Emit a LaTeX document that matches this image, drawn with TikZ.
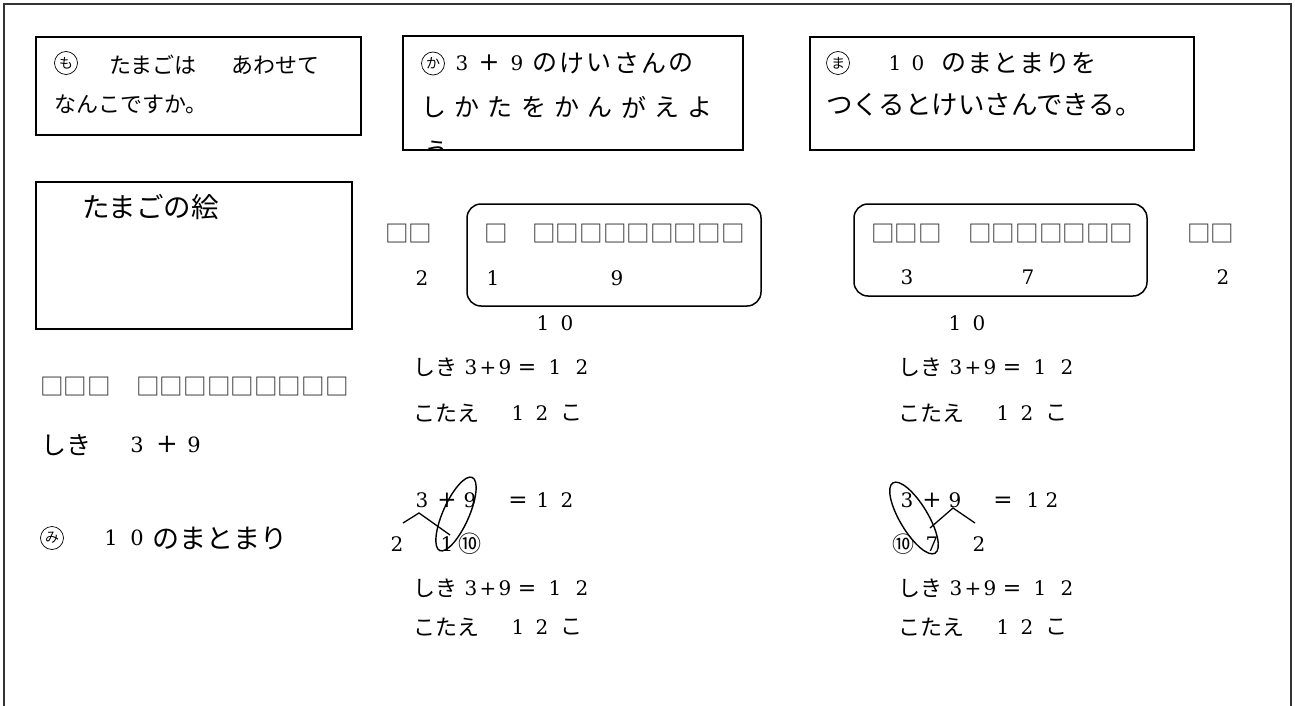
\documentclass[tikz,border=0pt]{standalone}
\usepackage{fontspec}
\newfontfamily\cjk{Noto Sans CJK JP}
\newfontfamily\dig{DejaVu Serif}
\newcounter{nd}
\tikzset{
  box/.style={draw, line width=1.6pt},
  rbox/.style={draw, line width=1.5pt, rounded corners=14pt},
  jtxt/.style={anchor=west, inner sep=0pt},
  dtxt/.style={anchor=base, inner sep=0pt},
  ctxt/.style={inner sep=0pt},
  sq/.style={anchor=west, inner sep=0pt, text=black!85},
  ckana/.style={circle, draw, line width=0.7pt, minimum size=23pt, inner sep=0pt},
  oval/.style={line width=1.4pt},
  branch/.style={line width=1.3pt},
}
\newcommand\J[4]{\stepcounter{nd}\node[jtxt,font=\cjk\fontsize{#3}{#3}\selectfont] (n\thend) at ({#1},{#2}) {#4};}
\newcommand\Jc[4]{\stepcounter{nd}\node[ctxt,font=\cjk\fontsize{#3}{#3}\selectfont] (n\thend) at ({#1},{#2}) {#4};}
% digits: #2 is the visual middle of a digit; placed on its baseline
\newcommand\D[4]{\stepcounter{nd}\node[dtxt,font=\dig\fontsize{#3}{#3}\selectfont] (n\thend) at ({#1},{#2+7.3}) {#4};}
\newcommand\Q[3]{\stepcounter{nd}\node[sq,font=\cjk\fontsize{23.6}{23.6}\selectfont] (n\thend) at ({#1},{#2}) {#3};}
\newcommand\Ck[3]{\stepcounter{nd}\node[ckana,font=\cjk\fontsize{14}{14}\selectfont] (n\thend) at ({#1},{#2}) {#3};}
\newcommand\Sp[5]{\foreach \ch [count=\i from 0] in {#5} {\J{#1+\i*#4}{#2}{#3}{\ch}}}
\newcommand\Ans[3]{%
  \J{#1}{#2}{22}{しき}
  \D{#1+58}{#2}{20}{3}
  \D{#1+75}{#2}{20}{+}
  \D{#1+92}{#2}{20}{9}
  \D{#1+114}{#2}{22}{=}
  \D{#1+142}{#2}{20}{1}
  \D{#1+169}{#2}{20}{2}
  \J{#1}{#3}{22}{こたえ}
  \D{#1+105}{#3}{20}{1}
  \D{#1+129}{#3}{20}{2}
  \J{#1+147}{#3}{22}{こ}
}
\begin{document}
\begin{tikzpicture}[x=1pt,y=-1pt]
\useasboundingbox (0,0) rectangle (1295,706);
% outer frame (open at the bottom)
\draw[line width=2pt, black!80] (4,712) -- (4,4) -- (1291,4) -- (1291,712);

% --- top boxes ---
\draw[box] (36,37) rectangle (361,135);
\Ck{66}{63}{も}
\J{109}{65}{22}{たまごは}
\J{231}{65}{22}{あわせて}
\J{54}{104}{22}{なんこですか。}

\draw[box] (403,36) rectangle (743,150);
\Ck{433}{63.5}{か}
\D{462}{63}{20}{3}
\D{489}{63}{25}{+}
\D{517}{63}{20}{9}
\Sp{532}{63}{25}{27.3}{の,け,い,さ,ん,の}
\Sp{421}{107}{25}{33.3}{し,か,た,を,か,ん,が,え,よ}
\begin{scope}
  \clip (404,37) rectangle (742,149);
  \J{424}{151}{25}{う}
\end{scope}

\draw[box] (810,37) rectangle (1194,150);
\Ck{838}{63}{ま}
\D{895}{63}{20}{1}
\D{918}{63}{20}{0}
\Sp{941}{63}{25}{26}{の,ま,と,ま,り,を}
\J{826}{105}{26.5}{つくるとけいさんできる。}

% --- egg picture box ---
\draw[box] (36,182) rectangle (352,329);
\J{82}{207}{27.5}{たまごの絵}

% --- left column ---
\Q{40}{387}{□□□}
\Q{136}{387}{□□□□□□□□□}
\J{41}{445}{25}{しき}
\D{137}{445}{21}{3}
\D{167}{445}{26}{+}
\D{194}{445}{21}{9}
\Ck{52}{538}{み}
\D{111}{538}{21}{1}
\D{137}{538}{21}{0}
\J{152}{538}{27}{のまとまり}

% --- middle: 2 + (1 and 9) ---
\draw[rbox] (467,204) rectangle (761,306);
\Q{385}{233.5}{□□}
\Q{484}{233.5}{□}
\Q{532}{233.5}{□□□□□□□□□}
\D{422}{278}{20}{2}
\D{493}{278}{20}{1}
\D{617}{278}{20}{9}
\D{543}{323}{20}{1}
\D{567}{323}{20}{0}
\Ans{413}{367}{413}

% --- right: (3 and 7) + 2 ---
\draw[rbox] (854,204) rectangle (1147,296);
\Q{871}{233.5}{□□□}
\Q{968}{233.5}{□□□□□□□}
\Q{1187}{233.5}{□□}
\D{907}{277}{20}{3}
\D{1028}{277}{20}{7}
\D{1223}{277}{20}{2}
\D{955}{323}{20}{1}
\D{979}{323}{20}{0}
\Ans{898}{367}{413}

% --- lower middle: splitting 3 ---
\D{422}{500}{20}{3}
\D{447}{500}{23}{+}
\D{470}{500}{20}{9}
\D{518}{500}{23}{=}
\D{543}{500}{20}{1}
\D{567}{500}{20}{2}
\D{397}{544}{20}{2}
\D{447}{544}{20}{1}
\Jc{470}{544}{23}{⑩}
\coordinate (la) at (419,513);
\coordinate (ll) at (403,523);
\coordinate (lr) at (450,535);
\draw[branch] (ll) -- (la) -- (lr);
\draw[oval, rotate around={66:(456,514)}] (456,514) ellipse [x radius=40, y radius=13];
\Ans{413}{588}{627}

% --- lower right: splitting 9 ---
\D{907}{500}{20}{3}
\D{932}{500}{23}{+}
\D{955}{500}{20}{9}
\D{1003}{500}{23}{=}
\D{1033}{500}{20}{1}
\D{1052}{500}{20}{2}
\Jc{903}{544}{22}{⑩}
\D{932}{544}{20}{7}
\D{979}{544}{20}{2}
\coordinate (ra) at (953,508);
\coordinate (rl) at (930,528);
\coordinate (rr) at (975,523);
\draw[branch] (rl) -- (ra) -- (rr);
\draw[oval, rotate around={121:(914,518)}] (914,518) ellipse [x radius=41, y radius=14];
\Ans{898}{588}{627}
\end{tikzpicture}
\end{document}
